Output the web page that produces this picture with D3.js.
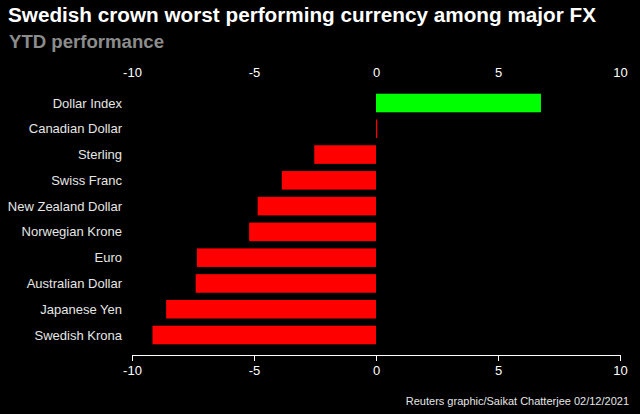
<!DOCTYPE html>
<html>
<head>
<meta charset="utf-8">
<script src="https://cdnjs.cloudflare.com/ajax/libs/d3/7.8.5/d3.min.js"></script>
<style>
  body { margin: 0; background: #000; }
  svg { display: block; font-family: "Liberation Sans", Arial, sans-serif; }
</style>
</head>
<body>
<svg width="640" height="414"></svg>
<script>
// YTD performance, % vs USD
var currencies = ["Dollar Index", "Canadian Dollar", "Sterling", "Swiss Franc",
    "New Zealand Dollar", "Norwegian Krone", "Euro", "Australian Dollar",
    "Japanese Yen", "Swedish Krona"];
var ytd = [6.76, 0.05, -2.53, -3.86, -4.85, -5.2, -7.34, -7.39, -8.6, -9.16];
var xTicks = [-10, -5, 0, 5, 10];
var highlight = "Dollar Index";

var svg = d3.select("svg");

var x = d3.scaleLinear().domain([-10, 10]).range([132, 620]);
var y = d3.scaleBand().domain(currencies).range([86.5, 351.5]).padding(0.28);

var data = currencies.map(function (c, i) { return {name: c, value: ytd[i]}; });
var fmt = function (d) { return String(d); };  // plain hyphen like the original

// title
svg.append("text")
    .attr("x", 8).attr("y", 22)
    .attr("fill", "#fff")
    .attr("font-size", 20).attr("font-weight", "bold")
    .attr("textLength", 588).attr("lengthAdjust", "spacingAndGlyphs")
    .text("Swedish crown worst performing currency among major FX");

svg.append("text")
    .attr("x", 9).attr("y", 48)
    .attr("fill", "#8c8c8c")
    .attr("font-size", 18).attr("font-weight", "bold")
    .attr("textLength", 155).attr("lengthAdjust", "spacingAndGlyphs")
    .text("YTD performance");

// top axis, labels only
var topAxis = svg.append("g")
    .attr("transform", "translate(0,77)")
    .call(d3.axisTop(x).tickValues(xTicks).tickFormat(fmt).tickSize(0).tickPadding(0));
topAxis.select(".domain").remove();

// bottom axis
var bottomAxis = svg.append("g")
    .attr("transform", "translate(0,355)")
    .call(d3.axisBottom(x).tickValues(xTicks).tickFormat(fmt).tickSize(6).tickSizeOuter(6).tickPadding(5));
bottomAxis.select(".domain").attr("stroke", "#fff");
bottomAxis.selectAll(".tick line").attr("stroke", "#fff");

svg.selectAll(".tick text")
    .attr("fill", "#fff")
    .attr("font-size", 13)
    .attr("font-family", "Liberation Sans, Arial, sans-serif");

// bars
svg.selectAll(".bar")
    .data(data)
    .enter().append("rect")
    .attr("class", "bar")
    .attr("x", function (d) { return x(Math.min(0, d.value)); })
    .attr("y", function (d) { return y(d.name); })
    .attr("width", function (d) { return Math.abs(x(d.value) - x(0)); })
    .attr("height", y.bandwidth())
    .attr("fill", function (d) { return d.name == highlight ? "#00ff00" : "#ff0000"; });

// category labels
svg.selectAll(".lbl")
    .data(data)
    .enter().append("text")
    .attr("class", "lbl")
    .attr("x", 122)
    .attr("y", function (d) { return y(d.name) + y.bandwidth() / 2; })
    .attr("dy", "0.35em")
    .attr("text-anchor", "end")
    .attr("fill", "#e6e6e6")
    .attr("font-size", 13)
    .text(function (d) { return d.name; });

// source
svg.append("text")
    .attr("x", 629).attr("y", 405)
    .attr("text-anchor", "end")
    .attr("fill", "#e6e6e6")
    .attr("font-size", 11)
    .text("Reuters graphic/Saikat Chatterjee 02/12/2021");
</script>
</body>
</html>
